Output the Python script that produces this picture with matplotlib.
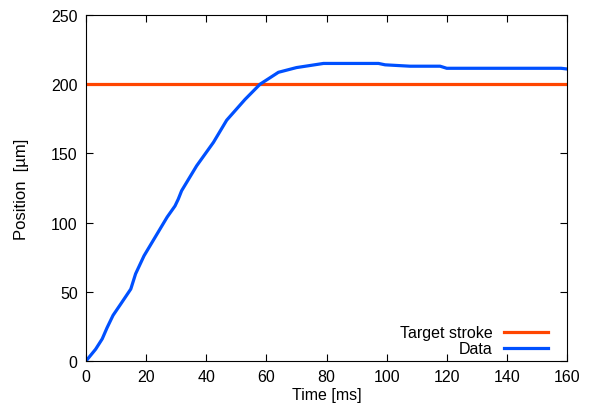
import matplotlib
matplotlib.use("Agg")
import matplotlib.pyplot as plt

plt.rcParams['font.family'] = ['Liberation Sans', 'DejaVu Sans']

# data
time_ms = [0, 3.2, 5.4, 7, 9, 11.5, 14.9, 16.5, 19.3, 22.6, 27, 29.6, 30.7, 31.8,
           36.8, 42.4, 46.8, 52.9, 57.9, 64, 70, 79, 91, 97.3, 99.5, 107.8,
           117.8, 120, 158, 160]
position_um = [0, 8.5, 16, 24, 33, 41, 52, 63, 76, 88, 104, 112, 117, 123,
               141, 158, 174, 189, 200, 208.6, 212, 215, 215, 215, 214, 213,
               213, 211.5, 211.5, 211]
target_stroke = 200
xticks = [0, 20, 40, 60, 80, 100, 120, 140, 160]
yticks = [0, 50, 100, 150, 200, 250]

fig = plt.figure(figsize=(5.94, 4.10), dpi=100)
ax = fig.add_axes([86/594, 48/410, (567-86)/594, (362-16)/410])

ax.axhline(target_stroke, color='#ff4500', lw=2.3, label='Target stroke')
ax.plot(time_ms, position_um, color='#0050ff', lw=2.3, label='Data')

ax.set_xlim(0, 160)
ax.set_ylim(0, 250)
ax.set_xticks(xticks)
ax.set_yticks(yticks)
ax.tick_params(direction='in', top=True, right=True, labelsize=11.5, length=5, pad=6)
ax.set_xlabel('Time [ms]', fontsize=11.5, labelpad=2)
ax.set_ylabel('Position  [µm]', fontsize=12, labelpad=16)

ax.legend(loc='lower right', frameon=False, markerfirst=False, fontsize=11.5,
          handlelength=2.75, handletextpad=0.7, labelspacing=0.05,
          borderaxespad=0.2, bbox_to_anchor=(0.98, -0.014))

fig.savefig('out.png', dpi=100)
